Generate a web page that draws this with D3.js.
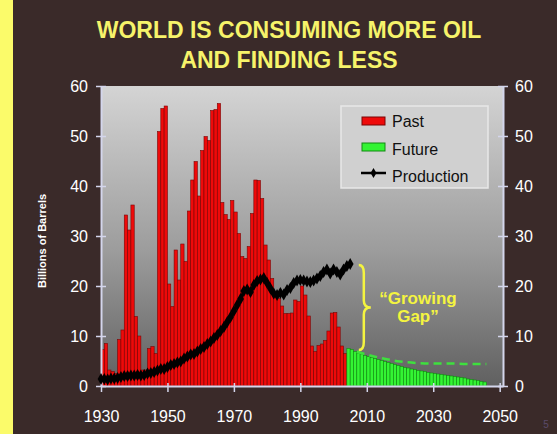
<!DOCTYPE html>
<html>
<head>
<meta charset="utf-8">
<script src="https://cdn.jsdelivr.net/npm/d3@7"></script>
<style>
  body { margin: 0; background: #3a2a29; }
  svg { display: block; font-family: Arial, "Liberation Sans", sans-serif; }
</style>
</head>
<body>
<svg width="557" height="434"></svg>
<script>
// discoveries (billions of barrels), one bar per year
var pastStart = 1930;
var pastValues = [
  7.3, 8.5, 3.2, 2.9, 2.5, 9.3, 11.2, 34.2, 31.2, 36.2,
  13.9, 10.0, 3.2, 3.2, 7.5, 7.9, 6.5, 50.9, 55.5, 56.0,
  20.4, 15.9, 27.2, 21.2, 28.4, 24.9, 35.0, 41.2, 44.9, 38.0,
  47.1, 49.9, 49.1, 55.1, 55.3, 56.5, 36.7, 34.3, 33.3, 37.1,
  34.8, 30.5, 25.9, 25.5, 27.9, 34.5, 41.2, 41.1, 37.5, 28.2,
  25.2, 21.5, 18.5, 17.5, 16.0, 14.5, 14.5, 14.6, 17.2, 16.9,
  20.0, 18.2, 14.0, 8.0, 6.9, 8.1, 8.4, 9.1, 11.0, 14.6,
  14.7, 11.8, 8.0, 6.5
];
var futureStart = 2004;
var futureValues = [
  7.5, 7.3, 6.9, 6.6, 6.4, 6.1, 5.9, 5.7, 5.5, 5.3,
  5.1, 4.9, 4.7, 4.5, 4.3, 4.1, 3.9, 3.7, 3.6, 3.4,
  3.3, 3.1, 3.0, 2.9, 2.7, 2.6, 2.5, 2.4, 2.3, 2.2,
  2.1, 2.0, 1.9, 1.8, 1.7, 1.6, 1.4, 1.3, 1.2, 1.1,
  0.9, 0.8
];
var prodStart = 1930;
var prodValues = [
  1.4, 1.4, 1.3, 1.5, 1.5, 1.6, 1.8, 2.0, 2.0, 2.1,
  2.1, 2.2, 2.1, 2.2, 2.5, 2.6, 2.8, 3.1, 3.4, 3.4,
  3.8, 4.2, 4.4, 4.7, 4.9, 5.5, 5.9, 6.3, 6.4, 6.9,
  7.4, 7.8, 8.4, 8.9, 9.6, 10.2, 11.0, 11.8, 12.8, 13.8,
  15.0, 16.2, 17.4, 19.0, 19.3, 18.8, 20.2, 21.0, 21.3, 21.6,
  20.6, 19.5, 18.5, 18.2, 18.6, 18.3, 19.2, 19.6, 20.6, 21.1,
  21.2, 21.1, 20.9, 20.8, 21.1, 21.5, 22.0, 22.8, 23.3, 22.5,
  23.3, 22.8, 22.3, 23.3, 24.0, 24.4
];
// dashed line over the future bars
var gapYears = [2007, 2010, 2015, 2020, 2025, 2030, 2035, 2040, 2046];
var gapValues = [6.9, 6.3, 5.5, 4.9, 4.6, 4.5, 4.5, 4.4, 4.4];

var xTicks = [1930, 1950, 1970, 1990, 2010, 2030, 2050];
var yTicks = [0, 10, 20, 30, 40, 50, 60];

var svg = d3.select("svg");

// yellow strip on the left edge of the slide
svg.append("rect").attr("x", 0).attr("y", 0).attr("width", 13).attr("height", 434).attr("fill", "#fbfb6a");

svg.append("text").attr("x", 289).attr("y", 38)
  .attr("text-anchor", "middle").attr("fill", "#f6f36a")
  .style("font-size", "23px").style("font-weight", "bold")
  .text("WORLD IS CONSUMING MORE OIL");
svg.append("text").attr("x", 289).attr("y", 68)
  .attr("text-anchor", "middle").attr("fill", "#f6f36a")
  .style("font-size", "23px").style("font-weight", "bold")
  .text("AND FINDING LESS");

var x = d3.scaleLinear().domain([1930, 2051]).range([101, 503]);
var y = d3.scaleLinear().domain([0, 60]).range([386, 86]);

var grad = svg.append("defs").append("linearGradient")
  .attr("id", "bg").attr("x1", 0).attr("y1", 0).attr("x2", 0).attr("y2", 1);
grad.append("stop").attr("offset", "0%").attr("stop-color", "#d4d4d4");
grad.append("stop").attr("offset", "55%").attr("stop-color", "#9c9c9c");
grad.append("stop").attr("offset", "100%").attr("stop-color", "#606060");

svg.append("rect")
  .attr("x", x(1930)).attr("y", y(60))
  .attr("width", x(2051) - x(1930)).attr("height", y(0) - y(60))
  .attr("fill", "url(#bg)");

var past = pastValues.map(function(v, i) { return {year: pastStart + i, value: v}; });
var future = futureValues.map(function(v, i) { return {year: futureStart + i, value: v}; });
var prod = prodValues.map(function(v, i) { return {year: prodStart + i, value: v}; });
var gap = gapYears.map(function(yr, i) { return {year: yr, value: gapValues[i]}; });

svg.append("g").selectAll("rect").data(past).join("rect")
  .attr("x", function(d) { return x(d.year); })
  .attr("y", function(d) { return y(d.value); })
  .attr("width", x(1931) - x(1930))
  .attr("height", function(d) { return y(0) - y(d.value); })
  .attr("fill", "#ee0a0a").attr("stroke", "#7a0505").attr("stroke-width", 0.6);

svg.append("g").selectAll("rect").data(future).join("rect")
  .attr("x", function(d) { return x(d.year); })
  .attr("y", function(d) { return y(d.value); })
  .attr("width", x(1931) - x(1930))
  .attr("height", function(d) { return y(0) - y(d.value); })
  .attr("fill", "#33f433").attr("stroke", "#128a12").attr("stroke-width", 0.6);

svg.append("path").datum(gap)
  .attr("fill", "none").attr("stroke", "#3ee03e").attr("stroke-width", 2.5)
  .attr("stroke-dasharray", "8,5")
  .attr("d", d3.line().curve(d3.curveMonotoneX)
    .x(function(d) { return x(d.year); })
    .y(function(d) { return y(d.value); }));

// axes
var axisColor = "#d4d6ec";
var gx = svg.append("g").attr("transform", "translate(0," + y(0) + ")")
  .call(d3.axisBottom(x).tickValues(xTicks).tickFormat(d3.format("d")).tickSizeInner(6).tickSizeOuter(0).tickPadding(19));
var gl = svg.append("g").attr("transform", "translate(" + x(1930) + ",0)")
  .call(d3.axisLeft(y).tickValues(yTicks).tickSizeInner(5).tickSizeOuter(0).tickPadding(8));
var gr = svg.append("g").attr("transform", "translate(" + x(2051) + ",0)")
  .call(d3.axisRight(y).tickValues(yTicks).tickSizeInner(5).tickSizeOuter(0).tickPadding(7));

[gx, gl, gr].forEach(function(g) {
  g.select(".domain").attr("stroke", axisColor).attr("stroke-width", 2);
  g.selectAll(".tick line").attr("stroke", axisColor).attr("stroke-width", 1.5);
  g.selectAll(".tick text").attr("fill", "#ffffff").style("font-size", "16px").style("font-family", "Arial, 'Liberation Sans', sans-serif");
});
gx.selectAll(".tick line").attr("y1", -3);
gl.selectAll(".tick line").attr("x1", 5);
gr.selectAll(".tick line").attr("x1", -5);

// production line with diamond markers
svg.append("path").datum(prod)
  .attr("fill", "none").attr("stroke", "#000").attr("stroke-width", 3)
  .attr("d", d3.line()
    .x(function(d) { return x(d.year); })
    .y(function(d) { return y(d.value); }));
svg.append("g").selectAll("path").data(prod).join("path")
  .attr("transform", function(d) { return "translate(" + x(d.year) + "," + y(d.value) + ")"; })
  .attr("d", d3.symbol().type(d3.symbolDiamond).size(40))
  .attr("fill", "#000");

svg.append("text")
  .attr("transform", "translate(46,241) rotate(-90)")
  .attr("text-anchor", "middle").attr("fill", "#fff")
  .style("font-size", "11px").style("font-weight", "bold")
  .text("Billions of Barrels");

// legend
var lg = svg.append("g").attr("transform", "translate(341,106)");
lg.append("rect").attr("width", 147).attr("height", 82)
  .attr("fill", "#d0d0d0").attr("stroke", "#e8e8e8").attr("stroke-width", 1.5);
lg.append("rect").attr("x", 21).attr("y", 11).attr("width", 23).attr("height", 8)
  .attr("fill", "#ee0a0a").attr("stroke", "#7a0505");
lg.append("rect").attr("x", 21).attr("y", 37).attr("width", 23).attr("height", 8)
  .attr("fill", "#33f433").attr("stroke", "#128a12");
lg.append("line").attr("x1", 20).attr("x2", 45).attr("y1", 67).attr("y2", 67)
  .attr("stroke", "#000").attr("stroke-width", 2.5);
lg.append("path").attr("transform", "translate(32.5,67)")
  .attr("d", d3.symbol().type(d3.symbolDiamond).size(30)).attr("fill", "#000");
var labels = ["Past", "Future", "Production"];
lg.selectAll("text.lbl").data(labels).join("text")
  .attr("class", "lbl")
  .attr("x", 51).attr("y", function(d, i) { return 21 + i * 27.5; })
  .attr("fill", "#111").style("font-size", "16px")
  .text(function(d) { return d; });

// brace marking the gap
var bx = x(2008.2), bTop = y(24.2), bBot = y(7.2), bMid = (bTop + bBot) / 2;
svg.append("path")
  .attr("d", "M" + (bx - 2) + "," + bTop +
    " Q" + (bx + 3) + "," + bTop + " " + (bx + 3) + "," + (bTop + 8) +
    " L" + (bx + 3) + "," + (bMid - 7) +
    " Q" + (bx + 3) + "," + bMid + " " + (bx + 10) + "," + bMid +
    " Q" + (bx + 3) + "," + bMid + " " + (bx + 3) + "," + (bMid + 7) +
    " L" + (bx + 3) + "," + (bBot - 8) +
    " Q" + (bx + 3) + "," + bBot + " " + (bx - 2) + "," + bBot)
  .attr("fill", "none").attr("stroke", "#f4f440").attr("stroke-width", 2.5);

svg.append("text").attr("x", x(2025.4)).attr("y", y(16.4))
  .attr("text-anchor", "middle").attr("fill", "#f4f440")
  .style("font-size", "17px").style("font-weight", "bold")
  .text("\u201cGrowing");
svg.append("text").attr("x", x(2025.4)).attr("y", y(12.8))
  .attr("text-anchor", "middle").attr("fill", "#f4f440")
  .style("font-size", "17px").style("font-weight", "bold")
  .text("Gap\u201d");

svg.append("text").attr("x", 546).attr("y", 428)
  .attr("text-anchor", "middle").attr("fill", "#5a4a6a")
  .style("font-size", "10px").text("5");
</script>
</body>
</html>
